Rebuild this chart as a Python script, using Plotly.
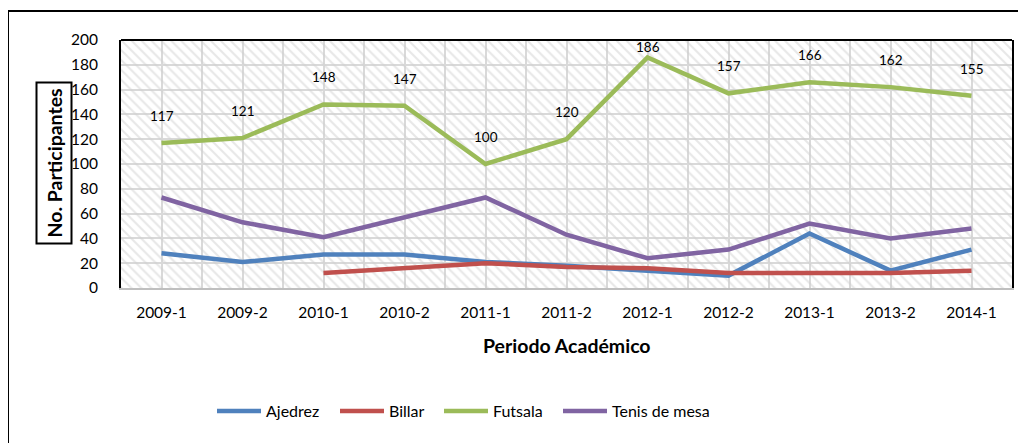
import plotly.graph_objects as go

periods = ["2009-1", "2009-2", "2010-1", "2010-2", "2011-1", "2011-2",
           "2012-1", "2012-2", "2013-1", "2013-2", "2014-1"]
ajedrez = [28, 21, 27, 27, 21, 18, 14, 10, 44, 14, 31]
billar = [None, None, 12, 16, 20, 17, 16, 12, 12, 12, 14]
futsala = [117, 121, 148, 147, 100, 120, 186, 157, 166, 162, 155]
tenis = [73, 53, 41, 57, 73, 43, 24, 31, 52, 40, 48]
y_ticks = [0, 20, 40, 60, 80, 100, 120, 140, 160, 180, 200]

series = [
    ("Ajedrez", ajedrez, "#4F81BD"),
    ("Billar", billar, "#C0504D"),
    ("Futsala", futsala, "#9BBB59"),
    ("Tenis de mesa", tenis, "#8064A2"),
]
# legend entry left edges (screen px)
legend_x = [212, 335, 439, 558]

# page body has an 8px default margin
PAGE_OFF = 8
W, H = 1026 - PAGE_OFF, 443 - PAGE_OFF
# plot area in screen pixels
PL, PR, PT, PB = 121, 1012, 40, 288
L = PL - PAGE_OFF
T = PT - PAGE_OFF
R = W - (PR - PAGE_OFF)
B = H - (PB - PAGE_OFF)
plot_w = PR - PL
plot_h = PB - PT
FONT = "Lato"


def px_x(sx):
    return (sx - PL) / plot_w


def px_y(sy):
    return (PB - sy) / plot_h


n = len(periods)
xs = list(range(n))
ymax = max(y_ticks)

fig = go.Figure()

# hatched plot-area background
fig.add_trace(go.Bar(
    x=[(n - 1) / 2], y=[ymax], width=[n],
    marker=dict(color="rgba(0,0,0,0)", line=dict(width=0),
                pattern=dict(shape="\\", fgcolor="#d0d0d0", bgcolor="rgba(0,0,0,0)",
                             size=7, solidity=0.3)),
    hoverinfo="skip", showlegend=False,
))

legend_layouts = {}
for i, (name, vals, color) in enumerate(series):
    lg = "legend" if i == 0 else f"legend{i + 1}"
    fig.add_trace(go.Scatter(
        x=xs, y=vals, name=name, mode="lines",
        line=dict(color=color, width=4.5),
        connectgaps=False, legend=lg,
    ))
    legend_layouts[lg] = dict(
        orientation="h", x=px_x(legend_x[i]), xanchor="left",
        y=px_y(411), yanchor="middle",
        font=dict(family=FONT, size=16, color="#000000"),
        itemwidth=44, bgcolor="rgba(0,0,0,0)",
    )

# data labels for Futsala
px_per_unit = plot_h / ymax
for xi, v in zip(xs, futsala):
    shift = min(27, (ymax - v) * px_per_unit - 7)
    fig.add_annotation(x=xi, y=v, text=str(v), showarrow=False, yshift=shift,
                       font=dict(family=FONT, size=13.5, color="#000000"))

# axis titles
fig.add_annotation(xref="paper", yref="paper", x=0.5, y=px_y(345),
                   text="<b>Periodo Académico</b>", showarrow=False,
                   xanchor="center", yanchor="middle",
                   font=dict(family=FONT, size=19.5, color="#000000"))
fig.add_annotation(xref="paper", yref="paper", x=px_x(54), y=px_y(163.5),
                   text="<b>No. Participantes</b>", showarrow=False, textangle=-90,
                   xanchor="center", yanchor="middle",
                   bordercolor="#000000", borderwidth=2, borderpad=5,
                   font=dict(family=FONT, size=19.5, color="#000000"))

# frame: top edge of plot area, outer chart border
fig.add_shape(type="line", xref="paper", yref="paper", x0=0, x1=1, y0=1, y1=1,
              line=dict(color="#000000", width=2))
fig.add_shape(type="rect", xref="paper", yref="paper",
              x0=px_x(8), x1=1.2, y0=-0.8, y1=px_y(11),
              line=dict(color="#000000", width=2), fillcolor="rgba(0,0,0,0)")

fig.update_layout(
    width=W, height=H,
    margin=dict(l=L, r=R, t=T, b=B),
    paper_bgcolor="#ffffff", plot_bgcolor="#ffffff",
    bargap=0,
    font=dict(family=FONT, size=15.5, color="#000000"),
    showlegend=True,
    **legend_layouts,
)
fig.update_xaxes(
    range=[-0.5, n - 0.5], tickmode="array", tickvals=xs, ticktext=periods,
    showgrid=True, gridcolor="#d9d9d9", gridwidth=2,
    minor=dict(tickmode="linear", tick0=-0.5, dtick=0.5, showgrid=True,
               gridcolor="#d9d9d9", gridwidth=2),
    showline=True, linecolor="#bfbfbf", linewidth=2,
    ticks="", ticklabelstandoff=9, zeroline=False,
    tickfont=dict(family=FONT, size=15.5, color="#000000"),
)
fig.update_yaxes(
    range=[0, ymax], tickmode="array", tickvals=y_ticks,
    showgrid=True, gridcolor="#d9d9d9", gridwidth=2,
    showline=True, linecolor="#000000", linewidth=2, mirror=True,
    ticks="", ticklabelstandoff=18, zeroline=False,
    tickfont=dict(family=FONT, size=15.5, color="#000000"),
)

fig.write_html("out.html")
